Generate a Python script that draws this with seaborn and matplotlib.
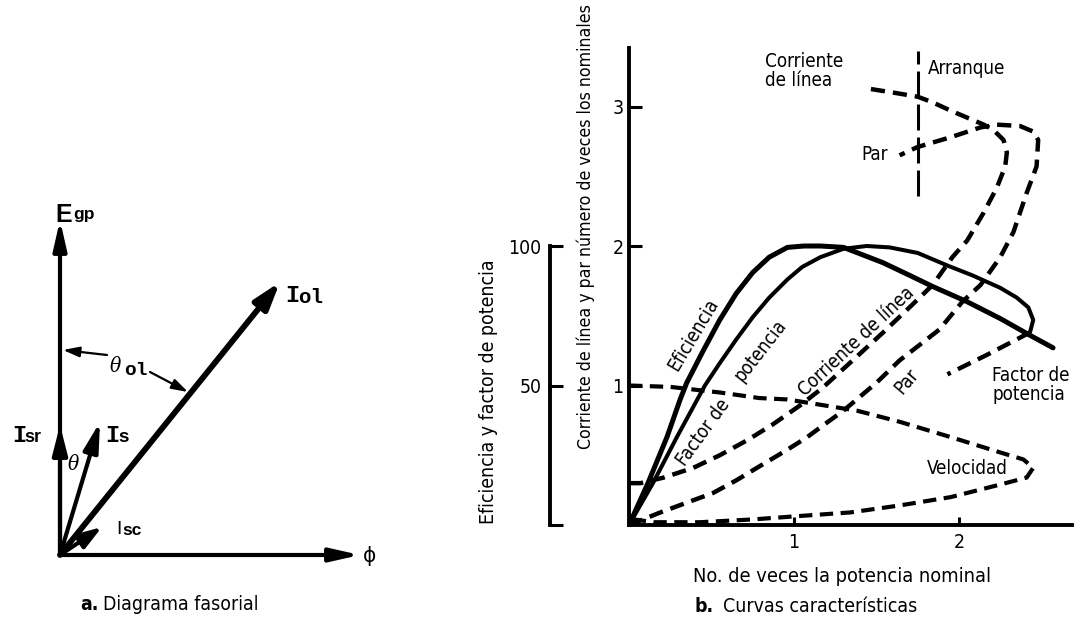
import matplotlib
matplotlib.use("Agg")
import matplotlib.pyplot as plt
from matplotlib import font_manager as fm
import seaborn as sns

# ---------------- characteristic curves (x = multiples of rated output) ----------------
# line current, multiples of rated current (parametric: runs from no load to standstill)
current_x = [0.0, 0.07, 0.21, 0.39, 0.55, 0.72, 0.87, 1.04, 1.17, 1.30, 1.54, 1.70, 1.84,
             1.96, 2.05, 2.15, 2.23, 2.28, 2.29, 2.27, 2.21, 2.15, 2.05, 1.95, 1.84, 1.75,
             1.60, 1.44]
current_y = [0.30, 0.30, 0.34, 0.41, 0.50, 0.61, 0.72, 0.86, 0.98, 1.12, 1.38, 1.56, 1.72,
             1.92, 2.04, 2.24, 2.42, 2.57, 2.67, 2.76, 2.83, 2.87, 2.92, 2.97, 3.03, 3.07,
             3.10, 3.13]

# torque, multiples of rated torque
torque_x = [0.0, 0.19, 0.35, 0.51, 0.65, 0.79, 0.96, 1.08, 1.16, 1.30, 1.38, 1.50, 1.64,
            1.88, 2.02, 2.13, 2.25, 2.33, 2.41, 2.47, 2.48, 2.45, 2.37, 2.23, 2.13, 1.95,
            1.75, 1.64]
torque_y = [0.0, 0.09, 0.16, 0.23, 0.32, 0.42, 0.54, 0.63, 0.70, 0.82, 0.90, 1.02, 1.18,
            1.40, 1.60, 1.72, 1.92, 2.10, 2.38, 2.57, 2.76, 2.82, 2.86, 2.87, 2.85, 2.78,
            2.71, 2.65]

# speed, multiples of synchronous speed
speed_x = [0.0, 0.25, 0.55, 0.79, 0.96, 1.38, 1.64, 1.95, 2.25, 2.39, 2.45, 2.41, 2.25,
           1.95, 1.64, 1.34, 1.04, 0.75, 0.43, 0.15, 0.03]
speed_y = [1.00, 0.99, 0.95, 0.91, 0.90, 0.82, 0.74, 0.63, 0.52, 0.47, 0.41, 0.34, 0.29,
           0.20, 0.14, 0.09, 0.065, 0.04, 0.02, 0.02, 0.04]

# efficiency, percent
eff_x = [0.0, 0.115, 0.23, 0.31, 0.35, 0.45, 0.55, 0.65, 0.75, 0.85, 0.96, 1.06, 1.16,
         1.30, 1.54, 1.70, 1.84, 2.05, 2.25, 2.43, 2.57]
eff_pct = [0.0, 15.0, 31.5, 45.0, 51.0, 62.5, 73.5, 83.0, 90.5, 96.0, 99.5, 100.0, 100.0,
           99.5, 94.0, 89.5, 85.5, 80.0, 74.0, 68.0, 63.5]

# power factor, percent (stable branch, then unstable return branch)
pf_x = [0.0, 0.145, 0.29, 0.46, 0.55, 0.65, 0.75, 0.85, 0.96, 1.05, 1.16, 1.30, 1.44,
        1.58, 1.75, 1.93, 2.08, 2.25, 2.35, 2.42, 2.45, 2.43]
pf_pct = [0.0, 15.0, 31.5, 50.0, 58.0, 66.5, 74.5, 81.5, 88.0, 92.5, 96.0, 99.0, 100.0,
          99.5, 97.5, 93.0, 89.5, 85.0, 81.5, 78.0, 73.5, 69.0]
pf_return_x = [2.43, 2.17, 1.93]
pf_return_pct = [69.0, 61.0, 54.0]

# starting point marker
start_x = 1.75
start_span = [2.36, 3.40]

x_ticks = [1, 2]
y_ticks = [1, 2, 3]
pct_ticks = [0, 50, 100]
pct_ticklabels = ["", "50", "100"]

# ---------------- phasor diagram ----------------
phasor_names = ["E_gp", "phi", "I_ol", "I_sr", "I_s", "I_sc"]
phasor_dx = [0, 300, 220, 0, 40, 42]
phasor_dy = [335, 0, 273, 130, 133, 28]

# ---------------- style ----------------
sns.set_style("white")
available = {f.name for f in fm.fontManager.ttflist}
if "Liberation Sans Narrow" in available:
    SANS, STRETCH, FS = "Liberation Sans Narrow", "normal", 1.0
else:
    SANS, STRETCH, FS = "DejaVu Sans", "condensed", 0.82
plt.rcParams["font.family"] = [SANS, "DejaVu Sans"]
plt.rcParams["font.stretch"] = STRETCH
plt.rcParams["text.color"] = "black"
plt.rcParams["axes.labelcolor"] = "black"

W, H = 1091, 624
fig = plt.figure(figsize=(W / 100, H / 100), dpi=100)
fig.patch.set_facecolor("white")


def fx(px):
    return px / W


def fy(py):
    return 1 - py / H


# ---------------- right panel: characteristic curves ----------------
x0, y0, x1, y1 = 629, 525, 1072, 48
ux, uy = 165.0, 139.5
rect = [fx(x0), fy(y0), (x1 - x0) / W, (y0 - y1) / H]
ax = fig.add_axes(rect)
ax_pct = fig.add_axes(rect, sharex=ax)
ax_pct.patch.set_alpha(0)

dash = (0, (3.2, 1.8))
kw = dict(sort=False, estimator=None, color="black")
sns.lineplot(x=current_x, y=current_y, ax=ax, lw=3.2, linestyle=dash, **kw)
sns.lineplot(x=torque_x, y=torque_y, ax=ax, lw=3.2, linestyle=dash, **kw)
sns.lineplot(x=speed_x, y=speed_y, ax=ax, lw=3.0, linestyle=dash, **kw)
ax.plot([start_x, start_x], start_span, color="black", lw=2.2,
        linestyle=(0, (8.5, 2.3)), solid_capstyle="butt")

sns.lineplot(x=eff_x, y=eff_pct, ax=ax_pct, lw=3.6, solid_joinstyle="round", **kw)
sns.lineplot(x=pf_x, y=pf_pct, ax=ax_pct, lw=2.9, solid_joinstyle="round", **kw)
sns.lineplot(x=pf_return_x, y=pf_return_pct, ax=ax_pct, lw=3.2, linestyle=dash, **kw)

xmax = (x1 - x0) / ux
ymax = (y0 - y1) / uy
ax.set_xlim(0, xmax)
ax.set_ylim(0, ymax)
ax_pct.set_ylim(0, ymax * 50)

for s in ["top", "right"]:
    ax.spines[s].set_visible(False)
for s in ["left", "bottom"]:
    ax.spines[s].set_linewidth(2.8)
    ax.spines[s].set_color("black")
ax.set_xticks(x_ticks)
ax.set_yticks(y_ticks)
ax.set_xticklabels([str(v) for v in x_ticks])
ax.set_yticklabels([str(v) for v in y_ticks])
ax.tick_params(axis="both", direction="in", width=2.2, color="black",
               labelsize=17 * FS, labelcolor="black", left=True, bottom=True)
ax.tick_params(axis="y", length=9, pad=4)
ax.tick_params(axis="x", length=6, pad=6)

ax.set_xlabel("No. de veces la potencia nominal", fontsize=17.5 * FS)
ax.xaxis.set_label_coords((842 - x0) / (x1 - x0), (y0 - 576) / (y0 - y1))
ax.xaxis.label.set_va("center")
ax.set_ylabel("Corriente de línea y par número de veces los nominales", fontsize=15.5 * FS)
ax.yaxis.set_label_coords((586 - x0) / (x1 - x0), (y0 - 227) / (y0 - y1))
ax.yaxis.label.set_va("center")

for s in ["top", "right", "bottom"]:
    ax_pct.spines[s].set_visible(False)
ax_pct.spines["left"].set_position(("axes", (550 - x0) / (x1 - x0)))
ax_pct.spines["left"].set_bounds(0, 100)
ax_pct.spines["left"].set_linewidth(2.8)
ax_pct.spines["left"].set_color("black")
ax_pct.set_yticks(pct_ticks)
ax_pct.set_yticklabels(pct_ticklabels)
ax_pct.tick_params(axis="y", direction="in", length=9, width=2.2, pad=6, left=True,
                   labelsize=17 * FS, color="black", labelcolor="black")
ax_pct.tick_params(axis="x", bottom=False, labelbottom=False)
ax_pct.set_ylabel("Eficiencia y factor de potencia", fontsize=17 * FS)
ax_pct.yaxis.set_label_coords((489 - x0) / (x1 - x0), (y0 - 392) / (y0 - y1))
ax_pct.yaxis.label.set_va("center")
ax.set_xlim(0, xmax)


def dxy(px, py):
    return (px - x0) / ux, (y0 - py) / uy


tfs = 16.5 * FS
ax.text(*dxy(765, 52), "Corriente\nde línea", fontsize=tfs, ha="left", va="top", linespacing=1.0)
ax.text(*dxy(928, 68), "Arranque", fontsize=tfs, ha="left", va="center")
ax.text(*dxy(888, 155), "Par", fontsize=tfs, ha="right", va="center")
ax.text(*dxy(693, 335), "Eficiencia", fontsize=tfs, rotation=59,
        ha="center", va="center", rotation_mode="anchor")
ax.text(*dxy(703, 432), "Factor de", fontsize=tfs, rotation=54,
        ha="center", va="center", rotation_mode="anchor")
ax.text(*dxy(760, 350), "potencia", fontsize=tfs, rotation=52,
        ha="center", va="center", rotation_mode="anchor")
ax.text(*dxy(856, 342), "Corriente de línea", fontsize=tfs, rotation=43,
        ha="center", va="center", rotation_mode="anchor")
ax.text(*dxy(907, 381), "Par", fontsize=tfs, rotation=50,
        ha="center", va="center", rotation_mode="anchor")
ax.text(*dxy(967, 468), "Velocidad", fontsize=tfs, ha="center", va="center")
ax.text(*dxy(992, 366), "Factor de\npotencia", fontsize=tfs, ha="left", va="top", linespacing=1.0)

# captions
fig.text(fx(695), fy(607), "b.", fontsize=17 * FS, fontweight="bold", ha="left", va="center")
fig.text(fx(723), fy(607), "Curvas características", fontsize=17 * FS, ha="left", va="center")
fig.text(fx(80), fy(605), "a.", fontsize=17 * FS, fontweight="bold", ha="left", va="center")
fig.text(fx(103), fy(605), "Diagrama fasorial", fontsize=17 * FS, ha="left", va="center")

# ---------------- left panel: phasor diagram ----------------
axa = fig.add_axes([0, 0, fx(400), 1])
axa.set_xlim(-60, 340)
axa.set_ylim(-69, 555)
axa.axis("off")

widths = {"E_gp": 3.0, "phi": 3.0, "I_ol": 4.2, "I_sr": 3.0, "I_s": 3.0, "I_sc": 3.0}
heads = {"E_gp": (1.1, 0.25), "phi": (1.1, 0.25), "I_ol": (1.0, 0.32),
         "I_sr": (1.1, 0.28), "I_s": (1.1, 0.28), "I_sc": (0.9, 0.3)}
for name, dx, dy in zip(phasor_names, phasor_dx, phasor_dy):
    hl, hw = heads[name]
    axa.annotate("", xy=(dx, dy), xytext=(0, 0),
                 arrowprops=dict(arrowstyle=f"-|>,head_length={hl},head_width={hw}",
                                 mutation_scale=16, lw=widths[name], color="black",
                                 shrinkA=0, shrinkB=0))

# angle pointer for theta_ol
ptr = dict(arrowstyle="-|>,head_length=0.7,head_width=0.22", mutation_scale=14,
           lw=1.6, color="black", shrinkA=0, shrinkB=0)
axa.annotate("", xy=(3, 205), xytext=(47, 200), arrowprops=ptr)
axa.annotate("", xy=(128, 163), xytext=(90, 183), arrowprops=ptr)

BOLD_SANS = ["Liberation Sans", "DejaVu Sans"]
MONO = ["Liberation Mono", "DejaVu Sans Mono"]
axa.text(-5, 333, "E", fontsize=18, family=BOLD_SANS, fontweight="bold", va="baseline")
axa.text(13, 336, "gp", fontsize=12.5, family=BOLD_SANS, fontweight="bold", va="baseline")
axa.text(225, 253, "I", fontsize=17, family=MONO, fontweight="bold", va="baseline")
axa.text(238, 252, "ol", fontsize=15, family=MONO, fontweight="bold", va="baseline")
axa.text(-48, 113, "I", fontsize=17, family=MONO, fontweight="bold", va="baseline")
axa.text(-36, 113, "sr", fontsize=13, family=BOLD_SANS, fontweight="bold", va="baseline")
axa.text(45, 113, "I", fontsize=17, family=MONO, fontweight="bold", va="baseline")
axa.text(58, 113, "s", fontsize=13.5, family=BOLD_SANS, fontweight="bold", va="baseline")
axa.text(13, 90, "θ", fontsize=15, family=["DejaVu Serif"], style="italic",
         ha="center", va="center")
axa.text(56, 21, "I", fontsize=14, family=BOLD_SANS, va="baseline")
axa.text(62, 20, "sc", fontsize=12.5, family=BOLD_SANS, fontweight="bold", va="baseline")
axa.text(50, 183, "θ", fontsize=15, family=["DejaVu Serif"], style="italic", va="baseline")
axa.text(64, 180, "ol", fontsize=14, family=MONO, fontweight="bold", va="baseline")
axa.text(310, -1, "ϕ", fontsize=16, family=["DejaVu Sans"], ha="center", va="center")

fig.savefig("out.png", dpi=100, facecolor="white")
